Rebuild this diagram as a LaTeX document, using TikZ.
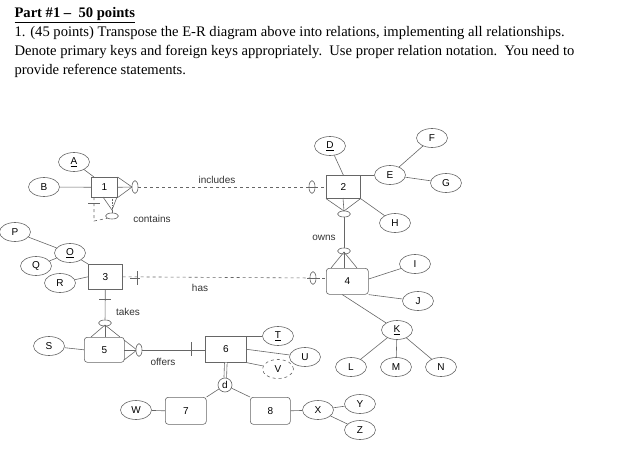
\documentclass[tikz,border=0pt]{standalone}
\usepackage{fontspec}
\setmainfont{Liberation Serif}
\newfontfamily\dsans{Liberation Sans}
\usetikzlibrary{shapes.geometric}
\begin{document}
\begin{tikzpicture}[x=1pt,y=-1pt,
  ln/.style={draw=black!60,line width=0.6pt},
  dln/.style={ln,dashed},
  ent/.style={ln,fill=white,minimum width=34pt,minimum height=25pt,inner sep=0pt,font=\dsans\fontsize{10}{11}\selectfont},
  went/.style={ent,rounded corners=3pt},
  att/.style={ln,ellipse,fill=white,minimum width=31pt,minimum height=19pt,inner sep=0pt,font=\dsans\fontsize{10}{11}\selectfont},
  ov/.style={ln,ellipse,fill=white,minimum width=6pt,minimum height=13pt,inner sep=0pt},
  hov/.style={ln,ellipse,fill=white,minimum width=13pt,minimum height=6pt,inner sep=0pt},
  lab/.style={font=\dsans\fontsize{10}{11}\selectfont,text=black!80},
  hd/.style={anchor=west,font=\fontsize{14.6}{16}\selectfont}]
\useasboundingbox (0,0) rectangle (619,458);
\node[hd,font=\fontsize{14.6}{16}\selectfont\bfseries] (h0) at (11,15) {\underline{Part \#1 -- \ 50 points}};
\node[hd] (h1) at (11,33) {1. (45 points) Transpose the E-R diagram above into relations, implementing all relationships.};
\node[hd] (h2) at (11,52) {Denote primary keys and foreign keys appropriately.\ \ Use proper relation notation.\ \ You need to};
\node[hd] (h3) at (11,71) {provide reference statements.};

% entities
\node[ent,minimum width=26pt,minimum height=20pt,anchor=north west] (e1) at (91,177) {1};
\node[ent,anchor=north west,minimum height=23pt] (e2) at (326,175) {2};
\node[ent,anchor=north west] (e3) at (88,264) {3};
\node[went,anchor=north west,minimum width=42pt,minimum height=26pt] (e4) at (326,268) {4};
\node[went,anchor=north west,minimum width=40pt] (e5) at (84,337) {5};
\node[ent,anchor=north west,minimum width=41pt,minimum height=26pt] (e6) at (205,336) {6};
\node[went,anchor=north west,minimum width=41pt,minimum height=27pt] (e7) at (165,397) {7};
\node[went,anchor=north west,minimum width=40pt,minimum height=27pt] (e8) at (250,397) {8};

% attributes
\node[att] (A) at (74,162) {\underline{A}};
\node[att] (B) at (44,187) {B};
\node[att] (D) at (330,146) {\underline{D}};
\node[att] (E) at (390,175) {E};
\node[att] (F) at (432,138) {F};
\node[att] (G) at (446,183) {G};
\node[att] (H) at (395,223) {H};
\node[att] (I) at (415,264) {I};
\node[att] (J) at (418,301) {J};
\node[att] (K) at (397,330) {\underline{K}};
\node[att] (L) at (351,367) {L};
\node[att] (M) at (396,367) {M};
\node[att] (N) at (441,367) {N};
\node[att] (O) at (70,253) {\underline{O}};
\node[att] (P) at (15,232) {P};
\node[att] (Q) at (36,266) {Q};
\node[att] (R) at (60,283) {R};
\node[att] (S) at (49,346) {S};
\node[att] (T) at (278,336) {\underline{T}};
\node[att] (U) at (305,357) {U};
\node[att,dashed] (V) at (278,369) {V};
\node[att] (W) at (136,410) {W};
\node[att] (X) at (318,410) {X};
\node[att] (Y) at (360,404) {Y};
\node[att] (Z) at (360,430) {Z};
\node[ln,circle,fill=white,minimum size=14pt,inner sep=0pt,font=\dsans\fontsize{10}{11}\selectfont] (d) at (225,385) {d};

\draw[ln] (A) -- ([xshift=3pt]e1.north west);
\draw[ln] (B) -- (e1);
\draw[ln] (D) -- (e2.north);
\draw[ln] (E) -- (e2.east |- E);
\draw[ln] (E) -- (F); \draw[ln] (E) -- (G);
\draw[ln] (H) -- (e2.south east);
\draw[ln] (I) -- (e4.north east |- 0,279);
\draw[ln] (J) -- (e4.south east);
\draw[ln] (K) -- ([xshift=-5pt]e4.south);
\draw[ln] (K) -- (L); \draw[ln] (K) -- (M); \draw[ln] (K) -- (N);
\draw[ln] (O) -- (e3.north west); \draw[ln] (O) -- (P); \draw[ln] (O) -- (Q);
\draw[ln] (R) -- (e3.west);
\draw[ln] (S) -- (e5.west);
\draw[ln] (T) -- (e6.north east);
\draw[ln] (U) -- (e6.east);
\draw[ln] (V) -- (e6.south east);
\draw[ln] (W) -- (e7.west);
\draw[ln] (X) -- (e8.east); \draw[ln] (X) -- (Y); \draw[ln] (X) -- (Z);
\draw[ln] (d) -- (e7.north east); \draw[ln] (d) -- (e8.north west);
\draw[ln,double=white,double distance=2pt] (e6.south) -- (d);

% includes: 1 -> 2
\coordinate (c1) at (132,187);
\draw[ln] (e1.north east) -- (c1) -- (e1.south east); \draw[ln] (e1.east) -- (c1);
\node[ov] (o1) at (135,187) {};
\node[ov] (o2) at (312,187) {};
\draw[dln] (o1) -- (o2); \draw[dln] (o2) -- (e2.west |- o2);
\draw[ln] (306,187) -- (318,187);
\node[lab] (inc) at (217,180) {includes};

% contains (recursive on 1)
\coordinate (c2) at (112,210);
\draw[ln] (103,197) -- (c2) -- (117,197); \draw[ln,densely dotted] (112,197) -- (c2);
\node[hov] (o3) at (112,216) {};
\draw[ln] (c2) -- (o3);
\draw[dln] (94,197) -- (94,221) -- (o3.south west);
\draw[ln] (88,203) -- (100,203);
\node[lab] (con) at (152,219) {contains};

% owns: 2 -> 4
\coordinate (c3) at (344,211);
\draw[ln] (e2.south west) -- (c3) -- (e2.south east); \draw[ln] (343,198) -- (c3);
\node[hov] (o4) at (344,214) {};
\coordinate (c4) at (344,252);
\node[hov] (o5) at (344,251) {};
\draw[ln] (o4) -- (o5);
\draw[ln] (331,268) -- (c4) -- (357,268); \draw[ln] (344,268) -- (c4);
\node[lab] (own) at (324,238) {owns};

% has: 3 -> 4
\node[ov] (o6) at (313,278) {};
\draw[dln] (e3.east) -- (o6); \draw[dln] (o6) -- (e4.west |- o6);
\draw[ln] (137,271) -- (137,285); \draw[ln] (130,278) -- (140,278);
\draw[ln] (307,278) -- (320,278);
\node[lab] (has) at (200,288) {has};

% takes: 3 -> 5
\node[hov] (o7) at (105,323) {};
\draw[ln] (e3.south) -- (o7);
\draw[ln] (99,299) -- (111,299);
\coordinate (c5) at (105,325);
\draw[ln] (91,337) -- (c5) -- (120,337); \draw[ln] (105,337) -- (c5);
\node[lab] (tak) at (128,312) {takes};

% offers: 5 -> 6
\coordinate (c6) at (137,350);
\draw[ln] (124,340) -- (c6) -- (124,360); \draw[ln] (124,350) -- (c6);
\node[ov] (o8) at (139,350) {};
\draw[ln] (o8) -- (e6.west |- o8);
\draw[ln] (191,342) -- (191,356);
\node[lab] (off) at (163,362) {offers};
\end{tikzpicture}
\end{document}
